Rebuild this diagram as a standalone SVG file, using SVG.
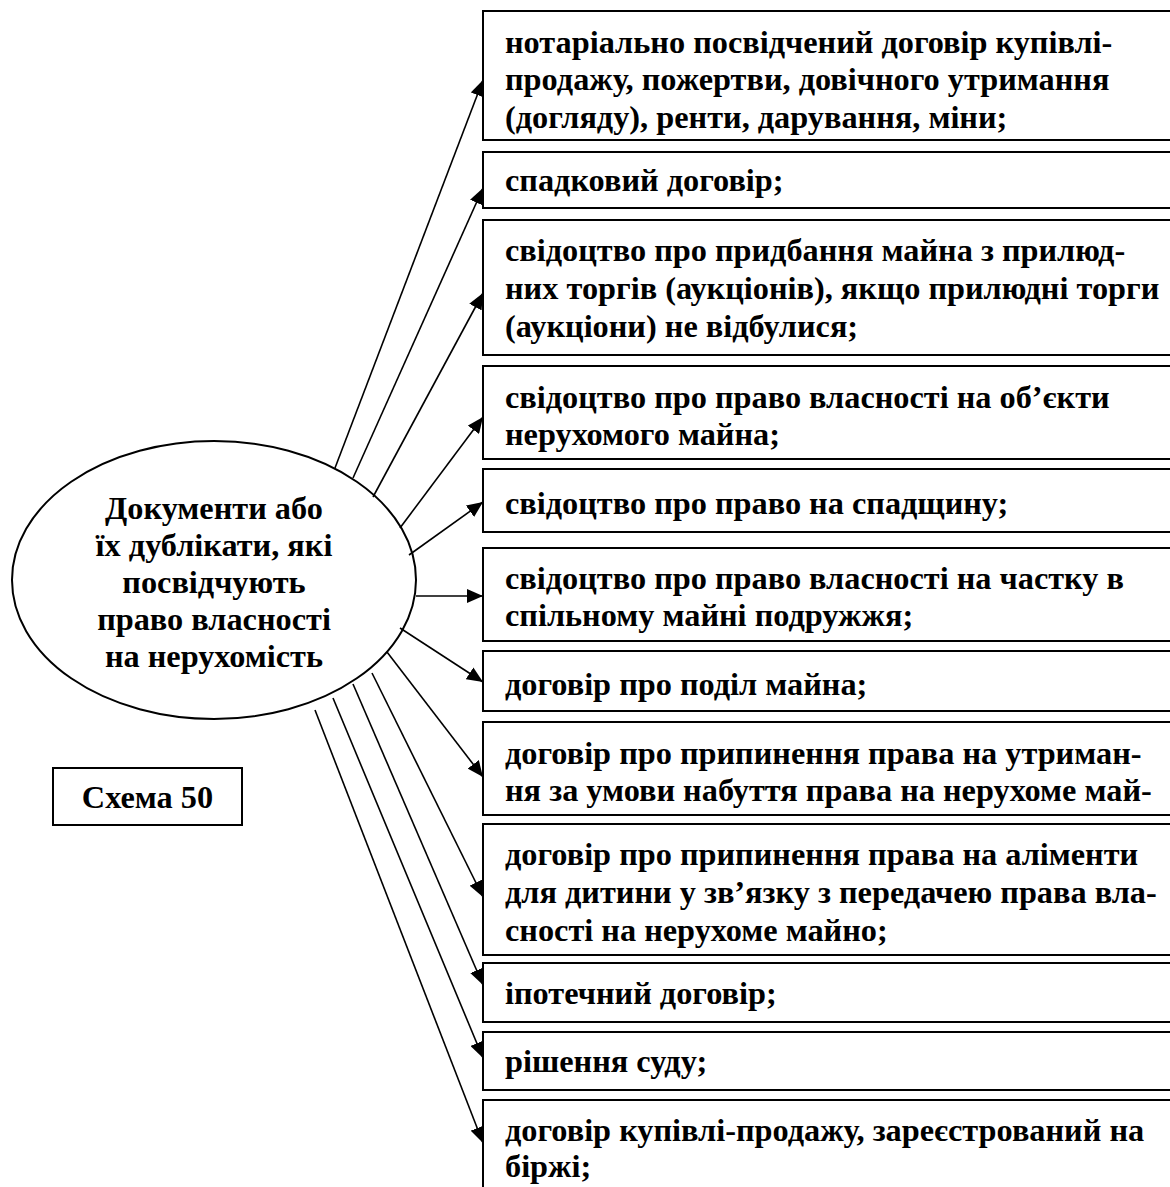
<svg xmlns="http://www.w3.org/2000/svg" width="1170" height="1187" viewBox="0 0 1170 1187">
<style>
.box{fill:#fff;stroke:#000;stroke-width:2}
.t{font-family:"Liberation Serif","Times New Roman",serif;font-weight:bold;font-size:32.3px;fill:#000}
.c{text-anchor:middle}
.ln{stroke:#000;stroke-width:1.6;fill:none;marker-end:url(#ah)}
</style>
<defs>
<marker id="ah" markerUnits="userSpaceOnUse" markerWidth="16" markerHeight="14" refX="16" refY="7" orient="auto">
<path d="M0,0 L16,7 L0,14 z" fill="#000"/>
</marker>
</defs>
<rect width="1170" height="1187" fill="#fff"/>
<g id="center">
<ellipse cx="214" cy="580" rx="202" ry="139" fill="#fff" stroke="#000" stroke-width="2"/>
<text class="t c" x="214" y="519">Документи або</text>
<text class="t c" x="214" y="556">їх дублікати, які</text>
<text class="t c" x="214" y="593">посвідчують</text>
<text class="t c" x="214" y="630">право власності</text>
<text class="t c" x="214" y="667">на нерухомість</text>
</g>
<g id="schema">
<rect class="box" x="53" y="768" width="189" height="57"/>
<text class="t c" x="147.5" y="808">Схема 50</text>
</g>
<g id="n1"><rect class="box" x="483" y="11" width="720" height="129"/>
<text class="t" x="505" y="53">нотаріально посвідчений договір купівлі-</text>
<text class="t" x="505" y="90">продажу, пожертви, довічного утримання</text>
<text class="t" x="505" y="128">(догляду), ренти, дарування, міни;</text></g>
<g id="n2"><rect class="box" x="483" y="152" width="720" height="56"/>
<text class="t" x="505" y="191">спадковий договір;</text></g>
<g id="n3"><rect class="box" x="483" y="220" width="720" height="135"/>
<text class="t" x="505" y="261">свідоцтво про придбання майна з прилюд-</text>
<text class="t" x="505" y="299">них торгів (аукціонів), якщо прилюдні торги</text>
<text class="t" x="505" y="337">(аукціони) не відбулися;</text></g>
<g id="n4"><rect class="box" x="483" y="366" width="720" height="93"/>
<text class="t" x="505" y="408">свідоцтво про право власності на об’єкти</text>
<text class="t" x="505" y="445">нерухомого майна;</text></g>
<g id="n5"><rect class="box" x="483" y="469" width="720" height="63"/>
<text class="t" x="505" y="514">свідоцтво про право на спадщину;</text></g>
<g id="n6"><rect class="box" x="483" y="548" width="720" height="93"/>
<text class="t" x="505" y="589">свідоцтво про право власності на частку в</text>
<text class="t" x="505" y="626">спільному майні подружжя;</text></g>
<g id="n7"><rect class="box" x="483" y="651" width="720" height="60"/>
<text class="t" x="505" y="695">договір про поділ майна;</text></g>
<g id="n8"><rect class="box" x="483" y="722" width="720" height="93"/>
<text class="t" x="505" y="764">договір про припинення права на утриман-</text>
<text class="t" x="505" y="801">ня за умови набуття права на нерухоме май-</text></g>
<g id="n9"><rect class="box" x="483" y="824" width="720" height="131"/>
<text class="t" x="505" y="865">договір про припинення права на аліменти</text>
<text class="t" x="505" y="903">для дитини у зв’язку з передачею права вла-</text>
<text class="t" x="505" y="941">сності на нерухоме майно;</text></g>
<g id="n10"><rect class="box" x="483" y="963" width="720" height="59"/>
<text class="t" x="505" y="1004">іпотечний договір;</text></g>
<g id="n11"><rect class="box" x="483" y="1032" width="720" height="58"/>
<text class="t" x="505" y="1072">рішення суду;</text></g>
<g id="n12"><rect class="box" x="483" y="1100" width="720" height="120"/>
<text class="t" x="505" y="1141">договір купівлі-продажу, зареєстрований на</text>
<text class="t" x="505" y="1177">біржі;</text></g>
<g id="connectors">
<line class="ln" x1="335" y1="468" x2="483" y2="80"/>
<line class="ln" x1="353" y1="478" x2="483" y2="188"/>
<line class="ln" x1="373" y1="497" x2="483" y2="293"/>
<line class="ln" x1="400" y1="528" x2="483" y2="417"/>
<line class="ln" x1="409" y1="555" x2="483" y2="502"/>
<line class="ln" x1="416" y1="596" x2="483" y2="596"/>
<line class="ln" x1="400" y1="628" x2="483" y2="682"/>
<line class="ln" x1="387" y1="652" x2="483" y2="777"/>
<line class="ln" x1="372" y1="673" x2="483" y2="897"/>
<line class="ln" x1="353" y1="684" x2="483" y2="985"/>
<line class="ln" x1="333" y1="698" x2="483" y2="1058"/>
<line class="ln" x1="315" y1="710" x2="483" y2="1143"/>
</g>
</svg>
